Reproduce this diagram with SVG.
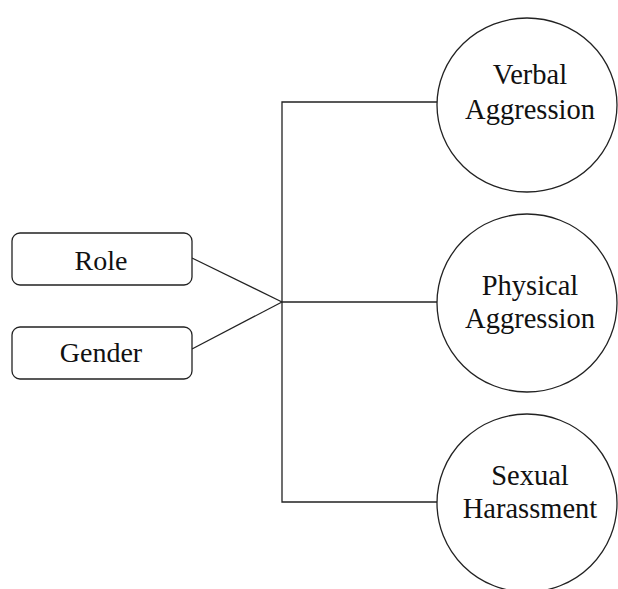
<svg xmlns="http://www.w3.org/2000/svg" width="618" height="589" viewBox="0 0 618 589">
<style>
.s{fill:#fff;stroke:#222;stroke-width:1.3}
.c{fill:none;stroke:#222;stroke-width:1.3}
text{font-family:"Liberation Serif","Times New Roman",serif;fill:#111;text-anchor:middle}
.n{font-size:28.5px}
.b{font-size:28px}
</style>
<rect width="618" height="589" fill="#fff"/>
<g id="connectors">
<polyline class="c" points="437,102 282,102 282,502 437,502"/>
<line class="c" x1="282" y1="302" x2="437" y2="302"/>
<line class="c" x1="192" y1="258" x2="282" y2="302"/>
<line class="c" x1="192" y1="349" x2="282" y2="302"/>
</g>
<g id="role">
<rect class="s" x="12" y="233" width="180" height="52" rx="8"/>
<text class="b" x="101" y="270">Role</text>
</g>
<g id="gender">
<rect class="s" x="12" y="327" width="180" height="52" rx="8"/>
<text class="b" x="101" y="362">Gender</text>
</g>
<g id="verbal">
<ellipse class="s" cx="527" cy="105" rx="90" ry="87"/>
<text class="n" x="530" y="84">Verbal</text>
<text class="n" x="530" y="119">Aggression</text>
</g>
<g id="physical">
<ellipse class="s" cx="527" cy="303" rx="90" ry="89"/>
<text class="n" x="530" y="295">Physical</text>
<text class="n" x="530" y="328">Aggression</text>
</g>
<g id="sexual">
<ellipse class="s" cx="527" cy="503" rx="90" ry="89"/>
<text class="n" x="530" y="485">Sexual</text>
<text class="n" x="530" y="518">Harassment</text>
</g>
</svg>
